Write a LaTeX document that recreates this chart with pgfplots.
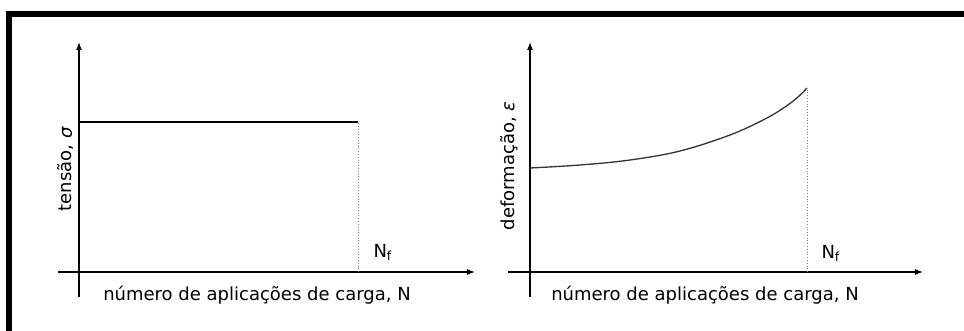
\documentclass[border=0pt]{standalone}
\usepackage{pgfplots}
\pgfplotsset{compat=1.18}
\usepackage{fontspec}
\setmainfont{DejaVu Sans}
\usetikzlibrary{arrows.meta}

\tikzset{lbl/.style={font=\fontsize{18bp}{22bp}\selectfont}}
\pgfplotsset{
  fatigue/.style={
    scale only axis,
    anchor=origin,
    axis lines=middle,
    axis line style={line width=1.3bp,-{Latex[length=8bp,width=6bp]}},
    xtick=\empty, ytick=\empty,
    ymin=-25, ymax=230,
    height=255bp,
    clip=false,
  },
}

\begin{document}
\begin{tikzpicture}
\useasboundingbox (0,0) rectangle (964bp,-331bp);
% frame around both panels
\draw[line width=6bp, miter limit=10] (9bp,-360bp) -- (9bp,-13.7bp) -- (990bp,-13.7bp);

% stress vs. number of load applications
\begin{axis}[fatigue, at={(79bp,-272bp)}, xmin=-21, xmax=396, width=417bp]
  \addplot[line width=1.3bp, black] coordinates {(0,150) (279,150)};
  \addplot[line width=0.8bp, gray, dotted] coordinates {(279,0) (279,150)};
  \node[lbl, rotate=90, anchor=center] at (axis cs:-13,103) {tensão, \textit{σ}};
  \node[lbl, anchor=base west] at (axis cs:291,15) {N\textsubscript{f}};
  \node[lbl, anchor=base] at (axis cs:178,-28) {número de aplicações de carga, N};
\end{axis}

% strain vs. number of load applications
\begin{axis}[fatigue, at={(530bp,-272bp)}, xmin=-22, xmax=393, width=415bp]
  \addplot[line width=1.3bp, black!80, smooth, tension=0.6] coordinates {
    (0,104) (50,107) (100,112) (150,121) (200,137) (235,153) (255,165) (268,175) (277,184)};
  \addplot[line width=0.8bp, gray, dotted] coordinates {(277,0) (277,184)};
  \node[lbl, rotate=90, anchor=center] at (axis cs:-21,106) {deformação, \textit{ε}};
  \node[lbl, anchor=base west] at (axis cs:288,14) {N\textsubscript{f}};
  \node[lbl, anchor=base] at (axis cs:175,-28) {número de aplicações de carga, N};
\end{axis}
\end{tikzpicture}
\end{document}
